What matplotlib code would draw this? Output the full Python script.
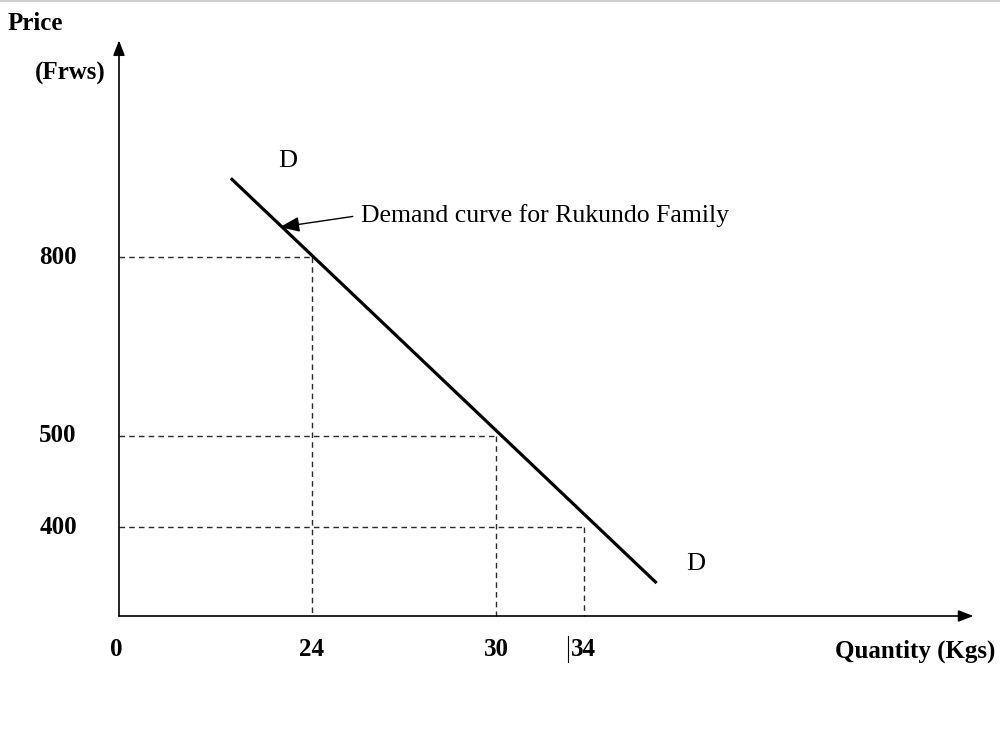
import numpy as np
import matplotlib
matplotlib.use("Agg")
import matplotlib.pyplot as plt

# values shown on the diagram
qty_ticks = [24, 30, 34]
price_ticks = [800, 500, 400]
demand_q = [13.9, 37.3]      # ends of the demand line
demand_p = [932, 148]
pointer_q, pointer_p = 20.0, 850   # where the label arrow touches the curve
label_q, label_p = 25.6, 870
d_top = (21.0, 961)
d_bottom = (39.1, 234)
q_end, p_end = 51.7, 1163    # arrow tips of the axes

# the drawing is not to scale: piecewise-linear axes (value -> pixel)
x_knots, x_pix = [0, 24, 30, 34], [119, 312, 496, 584]
y_knots, y_pix = [0, 400, 500, 800], [115, 204, 295, 474]


def piecewise(v, xs, ys):
    v = np.asarray(v, dtype=float)
    out = np.interp(v, xs, ys)
    lo = (ys[1] - ys[0]) / (xs[1] - xs[0])
    hi = (ys[-1] - ys[-2]) / (xs[-1] - xs[-2])
    out = np.where(v < xs[0], ys[0] + (v - xs[0]) * lo, out)
    out = np.where(v > xs[-1], ys[-1] + (v - xs[-1]) * hi, out)
    return out


fx = lambda v: piecewise(v, x_knots, x_pix)
ifx = lambda v: piecewise(v, x_pix, x_knots)
fy = lambda v: piecewise(v, y_knots, y_pix)
ify = lambda v: piecewise(v, y_pix, y_knots)

plt.rcParams["font.family"] = ["Liberation Serif", "DejaVu Serif"]

fig = plt.figure(figsize=(10, 7.31), dpi=100)
ax = fig.add_axes([0, 0, 1, 1])
ax.set_xscale("function", functions=(fx, ifx))
ax.set_yscale("function", functions=(fy, ify))
ax.set_xlim(float(ifx(0)), float(ifx(1000)))
ax.set_ylim(float(ify(0)), float(ify(731)))
ax.axis("off")

fig.add_artist(plt.Line2D([0, 1], [0.9985, 0.9985], color="#d0d0d0", lw=1.5))

# axes with arrow heads
arrow = dict(arrowstyle="-|>,head_length=0.9,head_width=0.35", color="black",
             lw=1.2, shrinkA=0, shrinkB=0)
ax.annotate("", xy=(q_end, 0), xytext=(0, 0), arrowprops=arrow)
ax.annotate("", xy=(0, p_end), xytext=(0, 0), arrowprops=arrow)

# guide lines
for q, p in zip(qty_ticks, price_ticks):
    ax.plot([0, q], [p, p], color="#2a2a2a", lw=1.0, dashes=(4, 3))
    ax.plot([q, q], [p, 0], color="#2a2a2a", lw=1.0, dashes=(4, 3))

# demand curve
ax.plot(demand_q, demand_p, color="black", lw=2.3, solid_capstyle="butt")

ax.annotate("Demand curve for Rukundo Family", xy=(pointer_q, pointer_p),
            xytext=(label_q, label_p), fontsize=18.5, ha="left", va="center",
            arrowprops=dict(arrowstyle="-|>,head_length=0.65,head_width=0.25",
                            color="black", lw=1.0, shrinkA=4, shrinkB=0,
                            relpos=(0, 0.5)))

ax.text(*d_top, "D", fontsize=19, ha="center", va="center")
ax.text(*d_bottom, "D", fontsize=19, ha="center", va="center")

# tick labels
xt = ax.get_xaxis_transform()
ax.text(-0.35, 1 - 650 / 731, "0", transform=xt, fontsize=18,
        fontweight="bold", ha="center", va="center")
for q in qty_ticks:
    ax.text(q, 1 - 650 / 731, str(q), transform=xt, fontsize=18,
            fontweight="bold", ha="center", va="center")
ax.plot([33.25, 33.25], [-90, -205], color="black", lw=0.8)

yt = ax.get_yaxis_transform()
for p in price_ticks:
    ax.text(58 / 1000, p, str(p), transform=yt, fontsize=18,
            fontweight="bold", ha="center", va="center")

fig.text(8 / 1000, 1 - 24 / 731, "Price", fontsize=18, fontweight="bold",
         ha="left", va="center")
fig.text(35 / 1000, 1 - 73 / 731, "(Frws)", fontsize=18, fontweight="bold",
         ha="left", va="center")
fig.text(995 / 1000, 1 - 651 / 731, "Quantity (Kgs)", fontsize=18,
         fontweight="bold", ha="right", va="center")

fig.savefig("out.png", dpi=100)
